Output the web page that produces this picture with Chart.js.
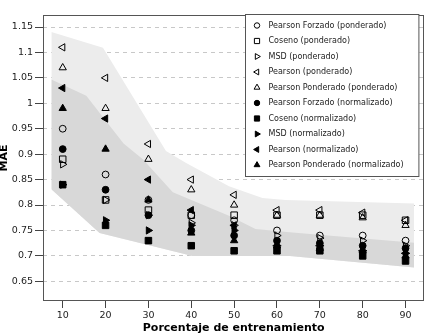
<!DOCTYPE html>
<html><head><meta charset="utf-8">
<script src="https://cdn.jsdelivr.net/npm/chart.js@4/dist/chart.umd.min.js"></script>
<style>html,body{margin:0;padding:0;background:#fff}#wrap{width:430px;height:336px;position:relative}</style>
</head><body><div id="wrap"><canvas id="c" width="430" height="336"></canvas></div>
<script>
// ---- data ----
const trainPct = [10, 20, 30, 40, 50, 60, 70, 80, 90];
const xTicks = [10, 20, 30, 40, 50, 60, 70, 80, 90];
const yTicks = [0.65, 0.7, 0.75, 0.8, 0.85, 0.9, 0.95, 1, 1.05, 1.1, 1.15];

const pfPond   = [0.95, 0.86, 0.81, 0.78, 0.77, 0.75, 0.74, 0.74, 0.73];
const cosPond  = [0.89, 0.81, 0.79, 0.78, 0.78, 0.78, 0.78, 0.78, 0.77];
const msdPond  = [0.88, 0.81, 0.78, 0.765, 0.76, 0.74, 0.735, 0.73, 0.72];
const pearPond = [1.11, 1.05, 0.92, 0.85, 0.82, 0.79, 0.79, 0.785, 0.77];
const ppPond   = [1.07, 0.99, 0.89, 0.83, 0.80, 0.78, 0.78, 0.775, 0.76];
const pfNorm   = [0.91, 0.83, 0.78, 0.75, 0.74, 0.73, 0.725, 0.72, 0.715];
const cosNorm  = [0.84, 0.76, 0.73, 0.72, 0.71, 0.71, 0.71, 0.70, 0.69];
const msdNorm  = [0.84, 0.77, 0.75, 0.76, 0.75, 0.72, 0.72, 0.71, 0.705];
const pearNorm = [1.03, 0.97, 0.85, 0.79, 0.76, 0.72, 0.72, 0.71, 0.705];
const ppNorm   = [0.99, 0.91, 0.81, 0.745, 0.73, 0.72, 0.715, 0.71, 0.70];

// shaded envelopes
const lightBandX     = [7.35, 19.4, 34.1, 38.7, 48.8, 56.6, 62, 92];
const lightBandUpper = [1.14, 1.109, 0.906, 0.883, 0.837, 0.814, 0.81, 0.803];
const darkBandX      = [7.35, 15.5, 24.2, 28.7, 35.7, 48.8, 55, 63.6, 92];
const darkBandUpper  = [1.047, 1.015, 0.921, 0.89, 0.825, 0.779, 0.753, 0.746, 0.726];
const darkLowerX     = [7.35, 18.6, 40.3, 63, 92];
const darkBandLower  = [0.831, 0.745, 0.70, 0.70, 0.677];

const seriesLabels = [
  'Pearson Forzado (ponderado)', 'Coseno (ponderado)', 'MSD (ponderado)',
  'Pearson (ponderado)', 'Pearson Ponderado (ponderado)',
  'Pearson Forzado (normalizado)', 'Coseno (normalizado)', 'MSD (normalizado)',
  'Pearson (normalizado)', 'Pearson Ponderado (normalizado)'
];
const seriesValues = [pfPond, cosPond, msdPond, pearPond, ppPond, pfNorm, cosNorm, msdNorm, pearNorm, ppNorm];

// ---- styles ----
const markerStyles = [
  {s:'circle', r:3.4, rot:0, open:true},
  {s:'rect', r:4.6, rot:0, open:true},
  {s:'triangle', r:4.2, rot:90, open:true},
  {s:'triangle', r:4.2, rot:-90, open:true},
  {s:'triangle', r:4.2, rot:0, open:true},
  {s:'circle', r:3.4, rot:0, open:false},
  {s:'rect', r:4.6, rot:0, open:false},
  {s:'triangle', r:4.2, rot:90, open:false},
  {s:'triangle', r:4.2, rot:-90, open:false},
  {s:'triangle', r:4.2, rot:0, open:false}
];

const pts = (xs, ys) => xs.map((x, i) => ({x: x, y: ys[i]}));

const datasets = seriesValues.map((vals, i) => ({
  label: seriesLabels[i],
  data: pts(trainPct, vals),
  showLine: false,
  pointStyle: markerStyles[i].s,
  pointRotation: markerStyles[i].rot,
  pointRadius: markerStyles[i].r,
  pointBorderWidth: 1,
  pointBorderColor: '#000',
  pointBackgroundColor: markerStyles[i].open ? 'rgba(0,0,0,0)' : '#000',
  order: 1
}));
// dark band
datasets.push({label:'_darkUpper', data: pts(darkBandX, darkBandUpper), pointRadius:0, borderWidth:0,
  borderColor:'rgba(0,0,0,0)', backgroundColor:'rgb(216,216,216)', fill:{target:11}, order:2, tension:0});
datasets.push({label:'_darkLower', data: pts(darkLowerX, darkBandLower), pointRadius:0, borderWidth:0,
  borderColor:'rgba(0,0,0,0)', fill:false, order:2, tension:0});
// light band
datasets.push({label:'_lightUpper', data: pts(lightBandX, lightBandUpper), pointRadius:0, borderWidth:0,
  borderColor:'rgba(0,0,0,0)', backgroundColor:'rgb(236,236,236)', fill:{target:11}, order:3, tension:0});

function drawMarker(ctx, st, x, y, r) {
  const rad = st.rot * Math.PI / 180;
  ctx.beginPath();
  if (st.s === 'circle') {
    ctx.arc(x, y, r, 0, Math.PI * 2);
  } else if (st.s === 'rect') {
    const s = r * Math.SQRT1_2;
    ctx.rect(x - s, y - s, 2 * s, 2 * s);
  } else {
    let a = rad;
    ctx.moveTo(x + Math.sin(a) * r, y - Math.cos(a) * r);
    a += 2 * Math.PI / 3;
    ctx.lineTo(x + Math.sin(a) * r, y - Math.cos(a) * r);
    a += 2 * Math.PI / 3;
    ctx.lineTo(x + Math.sin(a) * r, y - Math.cos(a) * r);
    ctx.closePath();
  }
  ctx.fillStyle = st.open ? 'rgba(0,0,0,0)' : '#000';
  ctx.strokeStyle = '#000';
  ctx.lineWidth = 1;
  ctx.fill();
  ctx.stroke();
}

const framePlugin = {
  id: 'frame',
  afterDatasetsDraw(chart) {
    const {ctx, chartArea: a} = chart;
    ctx.save();
    ctx.strokeStyle = '#555';
    ctx.lineWidth = 1;
    ctx.strokeRect(Math.round(a.left) + 0.5, Math.round(a.top) + 0.5,
                   Math.round(a.right - a.left) - 1, Math.round(a.bottom - a.top) - 1);
    ctx.restore();
  }
};

const legendPlugin = {
  id: 'boxLegend',
  afterDraw(chart) {
    const {ctx, chartArea: a} = chart;
    const left = 245.5, top = a.top - 0.5, right = a.right - 5.5, bottom = 176.5;
    ctx.save();
    ctx.fillStyle = '#fff';
    ctx.fillRect(left, top, right - left, bottom - top);
    ctx.strokeStyle = '#555';
    ctx.lineWidth = 1;
    ctx.strokeRect(left, top, right - left, bottom - top);
    ctx.font = '8px "DejaVu Sans"';
    ctx.textBaseline = 'middle';
    ctx.textAlign = 'left';
    seriesLabels.forEach((lab, i) => {
      const y = top + 11 + i * 15.5;
      drawMarker(ctx, markerStyles[i], 257, y, markerStyles[i].r * 0.8);
      ctx.fillStyle = '#222';
      ctx.fillText(lab, 268.5, y);
    });
    ctx.restore();
  }
};

new Chart(document.getElementById('c'), {
  type: 'line',
  data: { datasets },
  options: {
    responsive: false,
    devicePixelRatio: 1,
    animation: false,
    layout: { padding: { top: 15, right: 4, left: 0, bottom: 0 } },
    plugins: { legend: { display: false }, tooltip: { enabled: false },
               filler: { drawTime: 'beforeDatasetDraw' } },
    scales: {
      x: {
        type: 'linear', min: 5.4, max: 94.4,
        afterBuildTicks: s => { s.ticks = xTicks.map(v => ({value: v})); },
        afterFit: s => { s.height = 35; },
        ticks: { font: { family: 'DejaVu Sans', size: 9.5 }, color: '#222', padding: 2, autoSkip: false, maxRotation: 0 },
        grid: { drawOnChartArea: false, tickLength: 7, tickColor: '#444' },
        border: { display: false },
        title: { display: true, text: 'Porcentaje de entrenamiento', color: '#000',
                 font: { family: 'DejaVu Sans', size: 11, weight: 'bold' }, padding: { top: 0, bottom: 1 } }
      },
      y: {
        type: 'linear', min: 0.6113, max: 1.1736,
        afterBuildTicks: s => { s.ticks = yTicks.map(v => ({value: v})); },
        afterFit: s => { s.width = 43; },
        ticks: { font: { family: 'DejaVu Sans', size: 9.5 }, color: '#222', padding: 2,
                 callback: v => String(+Number(v).toFixed(2)) },
        grid: { color: '#c8c8c8', tickLength: 8, tickColor: '#444', tickBorderDash: [] },
        border: { display: false, dash: [4, 4] },
        title: { display: true, text: 'MAE', color: '#000',
                 font: { family: 'DejaVu Sans', size: 11, weight: 'bold', lineHeight: 0.8 }, padding: { top: 0, bottom: 0 } }
      }
    }
  },
  plugins: [framePlugin, legendPlugin]
});
</script>
</body></html>
